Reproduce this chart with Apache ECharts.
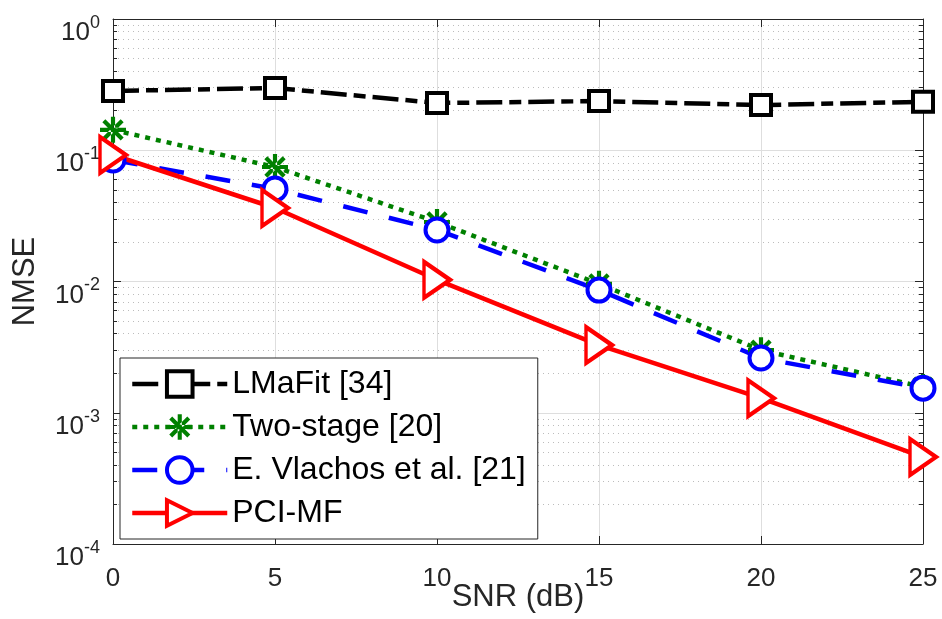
<!DOCTYPE html>
<html>
<head>
<meta charset="utf-8">
<script src="https://cdn.jsdelivr.net/npm/echarts@6/dist/echarts.min.js"></script>
<style>html,body{margin:0;padding:0;background:#fff}#c{width:942px;height:619px}</style>
</head>
<body>
<div id="c"></div>
<script>
const snr = [0, 5, 10, 15, 20, 25];
const lmafit = [0.283, 0.298, 0.229, 0.237, 0.221, 0.234];
const twoStage = [0.143, 0.0745, 0.0284, 0.0096, 0.0030, 0.00157];
const vlachos = [0.0843, 0.0507, 0.0247, 0.0086, 0.00261, 0.00154];
const pcimf = [0.092, 0.0363, 0.0103, 0.00328, 0.00129, 0.00046];
const seriesNames = ['LMaFit [34]', 'Two-stage [20]', 'E. Vlachos et al. [21]', 'PCI-MF'];
const xTicks = [0, 5, 10, 15, 20, 25];
const yDecades = [-4, -3, -2, -1, 0];

const minorTicks = [];
for (let e = -4; e < 0; e++) for (let m = 2; m <= 9; m++) minorTicks.push(m * Math.pow(10, e));

const FONT = '"Liberation Sans", Arial, Helvetica, sans-serif';
const AX = '#262626';
const asterisk = 'path://M-1.6,-10 L1.6,-10 L1.6,10 L-1.6,10 Z M-10,-1.6 L10,-1.6 L10,1.6 L-10,1.6 Z M-8.2,-5.9 L-5.9,-8.2 L8.2,5.9 L5.9,8.2 Z M-8.2,5.9 L-5.9,8.2 L8.2,-5.9 L5.9,-8.2 Z';

function pairs(ys) { return snr.map((x, i) => [x, ys[i]]); }

const chart = echarts.init(document.getElementById('c'), null, {renderer: 'canvas'});
const yBase = {type: 'log', logBase: 10, min: 1e-4, max: 1};
chart.setOption({
  animation: false,
  backgroundColor: '#fff',
  grid: {left: 113, right: 19, top: 19, bottom: 75, containLabel: false, outerBoundsMode: 'none'},
  legend: {
    orient: 'vertical', left: 120, top: 358,
    padding: [10, 12, 10, 10], itemGap: 11,
    itemWidth: 95, itemHeight: 32,
    backgroundColor: '#fff', borderColor: AX, borderWidth: 1, borderRadius: 0,
    textStyle: {fontSize: 32, color: '#000', fontFamily: FONT},
    lineStyle: {width: 4.5},
    data: [
      {name: seriesNames[0], itemStyle: {borderWidth: 4}},
      {name: seriesNames[1], itemStyle: {borderWidth: 0}},
      {name: seriesNames[2], itemStyle: {borderWidth: 4}},
      {name: seriesNames[3], itemStyle: {borderWidth: 4}}
    ]
  },
  xAxis: [{
    type: 'value', min: 0, max: 25, interval: 5, position: 'bottom',
    name: 'SNR (dB)', nameLocation: 'middle', nameGap: 38, nameMoveOverlap: false,
    nameTextStyle: {fontSize: 31, color: AX, fontFamily: FONT},
    axisLine: {show: true, lineStyle: {color: AX, width: 1}},
    axisTick: {show: true, inside: true, length: 8, lineStyle: {color: AX}},
    axisLabel: {fontSize: 26, color: AX, fontFamily: FONT, margin: 22},
    splitLine: {show: true, lineStyle: {color: '#dedede', width: 1}}
  }, {
    type: 'value', min: 0, max: 25, interval: 5, position: 'top',
    axisLine: {show: true, lineStyle: {color: AX, width: 1}},
    axisTick: {show: true, inside: true, length: 8, lineStyle: {color: AX}},
    axisLabel: {show: false}, splitLine: {show: false}
  }],
  yAxis: [Object.assign({}, yBase, {
    position: 'left', interval: 1,
    name: 'NMSE', nameLocation: 'middle', nameGap: 72, nameRotate: 90, nameMoveOverlap: false,
    nameTextStyle: {fontSize: 31, color: AX, fontFamily: FONT},
    axisLine: {show: true, lineStyle: {color: AX, width: 1}},
    axisTick: {show: true, inside: true, length: 8, lineStyle: {color: AX}},
    axisLabel: {
      margin: 13, color: AX, fontFamily: FONT, padding: [12, 0, 0, 0],
      formatter: v => '{b|10}{s|' + Math.round(Math.log10(v)) + '}',
      rich: {
        b: {fontSize: 26, color: AX, fontFamily: FONT, padding: [16, 0, 0, 0]},
        s: {fontSize: 18, color: AX, fontFamily: FONT, padding: [0, 0, 4, 0]}
      }
    },
    splitLine: {show: true, lineStyle: {color: '#dedede', width: 1}}
  }), Object.assign({}, yBase, {
    position: 'left',
    axisLine: {show: false},
    axisTick: {show: true, inside: true, length: 4, customValues: minorTicks, lineStyle: {color: AX}},
    axisLabel: {show: false},
    splitLine: {show: true, lineStyle: {color: '#bcbcbc', width: 1, type: [1, 4]}}
  }), Object.assign({}, yBase, {
    position: 'right', interval: 1,
    axisLine: {show: true, lineStyle: {color: AX, width: 1}},
    axisTick: {show: true, inside: true, length: 8, lineStyle: {color: AX}},
    axisLabel: {show: false}, splitLine: {show: false}
  }), Object.assign({}, yBase, {
    position: 'right',
    axisLine: {show: false},
    axisTick: {show: true, inside: true, length: 4, customValues: minorTicks, lineStyle: {color: AX}},
    axisLabel: {show: false}, splitLine: {show: false}
  })],
  series: [{
    name: seriesNames[0], type: 'line', data: pairs(lmafit), clip: false,
    symbol: 'rect', symbolSize: 20,
    lineStyle: {color: '#000', width: 4.5, type: [26, 7, 12, 7]},
    itemStyle: {color: '#fff', borderColor: '#000', borderWidth: 4}
  }, {
    name: seriesNames[1], type: 'line', data: pairs(twoStage), clip: false,
    symbol: asterisk, symbolSize: 26,
    lineStyle: {color: '#008000', width: 4.5, type: [5, 6]},
    itemStyle: {color: '#008000', borderColor: '#008000', borderWidth: 0}
  }, {
    name: seriesNames[2], type: 'line', data: pairs(vlachos), clip: false,
    symbol: 'circle', symbolSize: 23,
    lineStyle: {color: '#0000ff', width: 4.5, type: [25, 22]},
    itemStyle: {color: '#fff', borderColor: '#0000ff', borderWidth: 4}
  }, {
    name: seriesNames[3], type: 'line', data: pairs(pcimf), clip: false,
    symbol: 'triangle', symbolSize: [36, 26], symbolRotate: -90,
    lineStyle: {color: '#ff0000', width: 4.5, type: 'solid'},
    itemStyle: {color: '#fff', borderColor: '#ff0000', borderWidth: 4}
  }]
});
</script>
</body>
</html>
